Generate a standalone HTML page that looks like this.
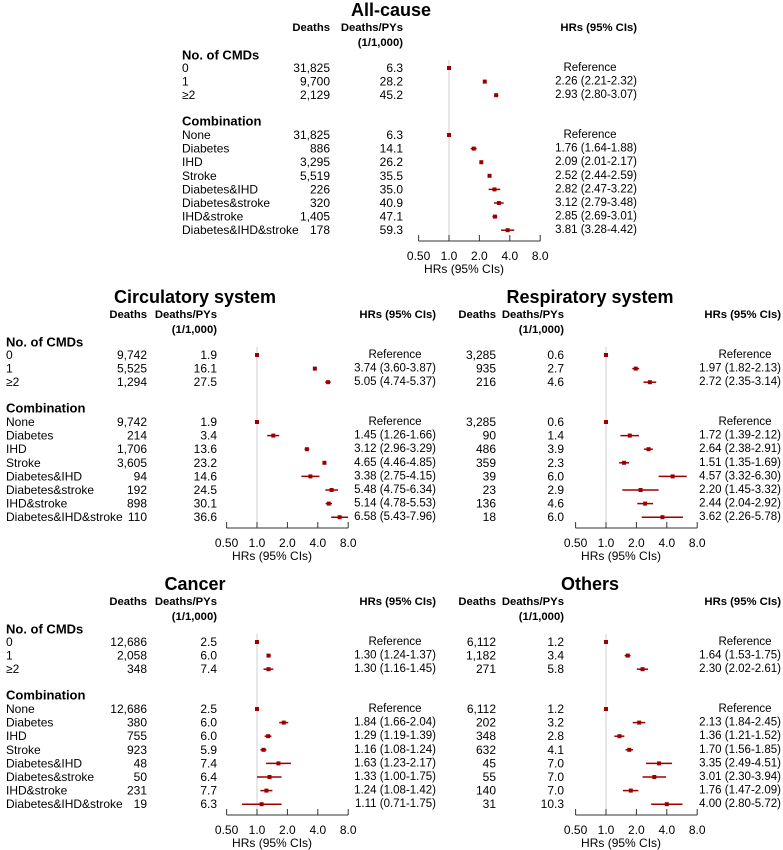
<!DOCTYPE html>
<html><head><meta charset="utf-8"><style>
html,body{margin:0;padding:0;background:#fff;}
svg{display:block;font-family:"Liberation Sans",Arial,sans-serif;}
</style></head><body>
<svg id="chart" width="783" height="850" viewBox="0 0 783 850" xmlns="http://www.w3.org/2000/svg"></svg>
<script>
const cmdCategories = ["0","1","≥2"];
const combCategories = ["None","Diabetes","IHD","Stroke","Diabetes&IHD","Diabetes&stroke","IHD&stroke","Diabetes&IHD&stroke"];
const tickValues = [0.5,1,2,4,8];
const tickLabels = ["0.50","1.0","2.0","4.0","8.0"];

const allDeaths = [31825,9700,2129,31825,886,3295,5519,226,320,1405,178];
const allRates = [6.3,28.2,45.2,6.3,14.1,26.2,35.5,35.0,40.9,47.1,59.3];
const allHR = [1,2.26,2.93,1,1.76,2.09,2.52,2.82,3.12,2.85,3.81];
const allLo = [1,2.21,2.80,1,1.64,2.01,2.44,2.47,2.79,2.69,3.28];
const allHi = [1,2.32,3.07,1,1.88,2.17,2.59,3.22,3.48,3.01,4.42];

const circDeaths = [9742,5525,1294,9742,214,1706,3605,94,192,898,110];
const circRates = [1.9,16.1,27.5,1.9,3.4,13.6,23.2,14.6,24.5,30.1,36.6];
const circHR = [1,3.74,5.05,1,1.45,3.12,4.65,3.38,5.48,5.14,6.58];
const circLo = [1,3.60,4.74,1,1.26,2.96,4.46,2.75,4.75,4.78,5.43];
const circHi = [1,3.87,5.37,1,1.66,3.29,4.85,4.15,6.34,5.53,7.96];

const respDeaths = [3285,935,216,3285,90,486,359,39,23,136,18];
const respRates = [0.6,2.7,4.6,0.6,1.4,3.9,2.3,6.0,2.9,4.6,6.0];
const respHR = [1,1.97,2.72,1,1.72,2.64,1.51,4.57,2.20,2.44,3.62];
const respLo = [1,1.82,2.35,1,1.39,2.38,1.35,3.32,1.45,2.04,2.26];
const respHi = [1,2.13,3.14,1,2.12,2.91,1.69,6.30,3.32,2.92,5.78];

const cancDeaths = [12686,2058,348,12686,380,755,923,48,50,231,19];
const cancRates = [2.5,6.0,7.4,2.5,6.0,6.0,5.9,7.4,6.4,7.7,6.3];
const cancHR = [1,1.30,1.30,1,1.84,1.29,1.16,1.63,1.33,1.24,1.11];
const cancLo = [1,1.24,1.16,1,1.66,1.19,1.08,1.23,1.00,1.08,0.71];
const cancHi = [1,1.37,1.45,1,2.04,1.39,1.24,2.17,1.75,1.42,1.75];

const othDeaths = [6112,1182,271,6112,202,348,632,45,55,140,31];
const othRates = [1.2,3.4,5.8,1.2,3.2,2.8,4.1,7.0,7.0,7.0,10.3];
const othHR = [1,1.64,2.30,1,2.13,1.36,1.70,3.35,3.01,1.76,4.00];
const othLo = [1,1.53,2.02,1,1.84,1.21,1.56,2.49,2.30,1.47,2.80];
const othHi = [1,1.75,2.61,1,2.45,1.52,1.85,4.51,3.94,2.09,5.72];

const svg = document.getElementById('chart');
const NS = "http://www.w3.org/2000/svg";
function el(tag, attrs, parent){
  const e = document.createElementNS(NS, tag);
  for (const k in attrs) e.setAttribute(k, attrs[k]);
  (parent||svg).appendChild(e);
  return e;
}
function txt(parent, x, y, s, anchor, size, bold){
  const t = el('text', {x:x, y:y, 'text-anchor':anchor, 'dominant-baseline':'central', 'font-size':size, 'font-weight':bold?'bold':'normal', fill:'#000'}, parent);
  t.textContent = s;
  return t;
}
function fmt(n){ return String(n).replace(/\B(?=(\d{3})+(?!\d))/g, ","); }

function panel(p, name, deaths, rates, hr, lo, hi){
  const g = el('g', {});
  
  
  const sx = v => p.ref + 30.4 * Math.log2(v);
  const t = txt(g, p.tx, p.y0, p.title, 'middle', 18, true);
  
  
  const h1 = txt(g, p.deaths, p.y0+18, 'Deaths', 'end', 11.3, true);
  
  
  const h2 = txt(g, p.rate, p.y0+18, 'Deaths/PYs', 'end', 11.3, true);
  
  
  txt(g, p.rate, p.y0+33, '(1/1,000)', 'end', 11.3, true);
  const h3 = txt(g, p.hr, p.y0+18, 'HRs (95% CIs)', 'end', 11.3, true);
  
  
  if (p.lab !== null){
    const s1 = txt(g, p.lab, p.y0+45, 'No. of CMDs', 'start', 13, true);
    
    
    const s2 = txt(g, p.lab, p.y0+111, 'Combination', 'start', 13, true);
    
    
  }
  const axisY = p.y0 + 231;
  const rl = el('line', {x1:p.ref, x2:p.ref, y1:p.y0+50, y2:axisY, stroke:'#cfcfcf', 'stroke-width':1}, g);
  
  
  const cats = cmdCategories.concat(combCategories);
  for (let i=0;i<cats.length;i++){
    const y = i<3 ? p.y0+58+13.6*i : p.y0+125+13.6*(i-3);
    if (p.lab !== null){
      const l = txt(g, p.lab, y, cats[i], 'start', 12, false);
      
      
    }
    const d = txt(g, p.deaths, y, fmt(deaths[i]), 'end', 12, false);
    
    
    const r = txt(g, p.rate, y, rates[i].toFixed(1), 'end', 12, false);
    
    
    let ht;
    if (hr[i]===1 && lo[i]===1 && hi[i]===1){
      ht = txt(g, p.refc, y, 'Reference', 'middle', 11.5, false);
    } else {
      ht = txt(g, p.hr, y, hr[i].toFixed(2)+' ('+lo[i].toFixed(2)+'-'+hi[i].toFixed(2)+')', 'end', 11.5, false);
    }
    
    
    const ci = el('line', {x1:sx(lo[i]), x2:sx(hi[i]), y1:y, y2:y, stroke:'#9b0000', 'stroke-width':1.5}, g);
    
    
    const m = el('rect', {x:sx(hr[i])-2, y:y-2, width:4, height:4, fill:'#9b0000'}, g);
    
    
  }
  const ax = el('line', {x1:sx(tickValues[0]), x2:sx(tickValues[tickValues.length-1]), y1:axisY, y2:axisY, stroke:'#333', 'stroke-width':1}, g);
  
  
  for (let k=0;k<tickValues.length;k++){
    const x = sx(tickValues[k]);
    const tk = el('line', {x1:x, x2:x, y1:axisY-6, y2:axisY, stroke:'#333', 'stroke-width':1}, g);
    
    
    const tl = txt(g, x, axisY+15, tickLabels[k], 'middle', 12, false);
    
    
  }
  const at = txt(g, sx(1.41), axisY+28, 'HRs (95% CIs)', 'middle', 12, false);
  
  
}

panel({title:'All-cause', tx:391, y0:10, lab:182, deaths:330, rate:403, ref:449, hr:637, refc:590}, 'all-cause', allDeaths, allRates, allHR, allLo, allHi);
panel({title:'Circulatory system', tx:195, y0:297, lab:6, deaths:147, rate:217, ref:257, hr:436, refc:395}, 'circulatory', circDeaths, circRates, circHR, circLo, circHi);
panel({title:'Respiratory system', tx:590, y0:297, lab:null, deaths:496, rate:564, ref:606, hr:781, refc:745}, 'respiratory', respDeaths, respRates, respHR, respLo, respHi);
panel({title:'Cancer', tx:195, y0:584, lab:6, deaths:147, rate:217, ref:257, hr:436, refc:395}, 'cancer', cancDeaths, cancRates, cancHR, cancLo, cancHi);
panel({title:'Others', tx:590, y0:584, lab:null, deaths:496, rate:564, ref:606, hr:781, refc:745}, 'others', othDeaths, othRates, othHR, othLo, othHi);
</script>
</body></html>
